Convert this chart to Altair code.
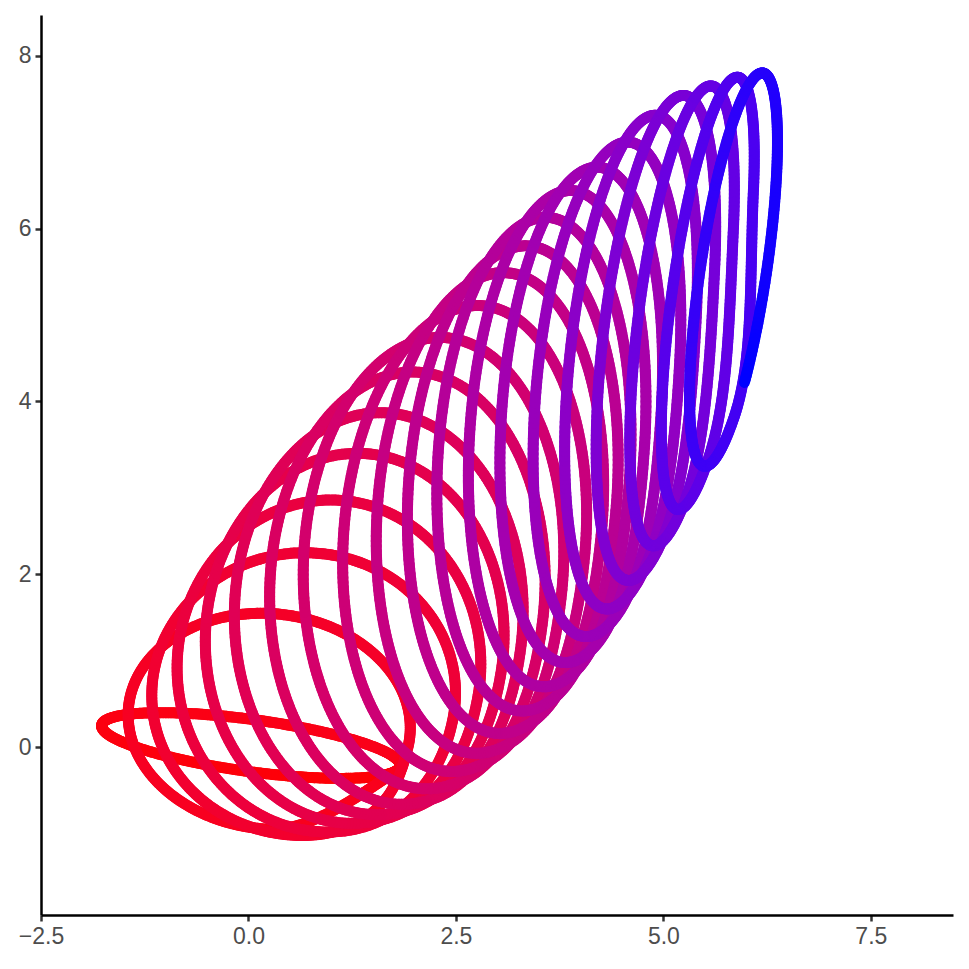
import numpy as np
import pandas as pd
import altair as alt

# Loops of the path (data units):
# topmost point, lowest point and horizontal half-width of each loop
loop_top_x = [-1.05, 0.15, 0.68, 0.99, 1.31, 1.59, 1.98, 2.31, 2.76, 3.07,
              3.34, 3.58, 3.88, 4.20, 4.57, 4.90, 5.24, 5.57, 5.89, 6.19]
loop_top_y = [0.40, 1.55, 2.25, 2.86, 3.40, 3.87, 4.34, 4.74, 5.11, 5.49,
              5.80, 6.13, 6.44, 6.71, 7.00, 7.31, 7.54, 7.65, 7.75, 7.80]
loop_bottom_x = [1.11, 0.35, 0.65, 0.95, 1.25, 1.55, 1.85, 2.15, 2.45, 2.75,
                 3.03, 3.30, 3.56, 3.82, 4.07, 4.32, 4.58, 4.88, 5.18, 5.50]
loop_bottom_y = [-0.36, -0.95, -1.02, -0.98, -0.88, -0.78, -0.66, -0.48, -0.28, -0.07,
                 0.16, 0.42, 0.70, 0.98, 1.28, 1.60, 1.93, 2.33, 2.75, 3.25]
loop_half_width = [1.80, 1.70, 1.83, 1.83, 1.80, 1.74, 1.66, 1.57, 1.47, 1.37,
                   1.27, 1.17, 1.07, 0.98, 0.89, 0.80, 0.72, 0.63, 0.56, 0.53]
path_end_fraction = 0.96  # the last loop stops on its way down the right side

x_ticks = [-2.5, 0.0, 2.5, 5.0, 7.5]
y_ticks = [0, 2, 4, 6, 8]

# ellipse parameters of each loop
tx, ty = np.array(loop_top_x), np.array(loop_top_y)
bx, by = np.array(loop_bottom_x), np.array(loop_bottom_y)
W = np.array(loop_half_width)
cx = (tx + bx) / 2
cy = (ty + by) / 2
H = (ty - by) / 2
S = np.clip((tx - bx) / (2 * W), -0.95, 0.95)
params = np.array([cx, cy, W, H, S]).T

# trace the looping path (clockwise), easing from one loop into the next
n_loops = len(params)
n_per = 300
xs, ys = [], []
for k in range(n_loops):
    p0 = params[k]
    p1 = params[k + 1] if k + 1 < n_loops else params[k]
    j_start = -int(n_per * 0.3) if k == 0 else 0
    j_end = n_per if k + 1 < n_loops else int(n_per * path_end_fraction) + 1
    for j in range(j_start, j_end):
        f = j / n_per
        b = np.clip((f - 0.78) / 0.22, 0, 1)
        b = b * b * (3 - 2 * b)
        c_x, c_y, w, h, s = p0 + (p1 - p0) * b
        phi = np.arcsin(s)
        u = 2 * np.pi * f
        xs.append(c_x - w * np.sin(u))
        ys.append(c_y - h * np.cos(u - phi))

xs = np.array(xs)
ys = np.array(ys)
df = pd.DataFrame({
    "x": np.round(xs[:-1], 4),
    "y": np.round(ys[:-1], 4),
    "x2": np.round(xs[1:], 4),
    "y2": np.round(ys[1:], 4),
    "t": np.arange(len(xs) - 1),
})

font = "Liberation Sans"
xscale = alt.Scale(domain=[-2.5, 8.49], nice=False, zero=False)
yscale = alt.Scale(domain=[-1.94, 8.47], nice=False, zero=False)

chart = alt.Chart(df).mark_rule(strokeWidth=11, strokeCap="round").encode(
    x=alt.X("x:Q", scale=xscale, title=None,
            axis=alt.Axis(values=x_ticks, format=".1f", grid=False, labelFlush=False)),
    y=alt.Y("y:Q", scale=yscale, title=None,
            axis=alt.Axis(values=y_ticks, format="d", grid=False, labelFlush=False)),
    x2="x2:Q",
    y2="y2:Q",
    color=alt.Color("t:Q", legend=None,
                    scale=alt.Scale(range=["#FF0000", "#0000FF"], interpolate="lab")),
).properties(
    width=912, height=900,
    autosize=alt.AutoSizeParams(type="none"),
    padding={"left": 33, "top": 7, "right": 8, "bottom": 46},
).configure_view(
    stroke=None
).configure_axis(
    domainColor="black", domainWidth=2.5,
    tickColor="#333333", tickWidth=2.5, tickSize=6,
    labelColor="#4D4D4D", labelFont=font, labelFontSize=23, labelPadding=4,
)

chart.save("out.html", embed_options={"renderer": "svg", "actions": False})
